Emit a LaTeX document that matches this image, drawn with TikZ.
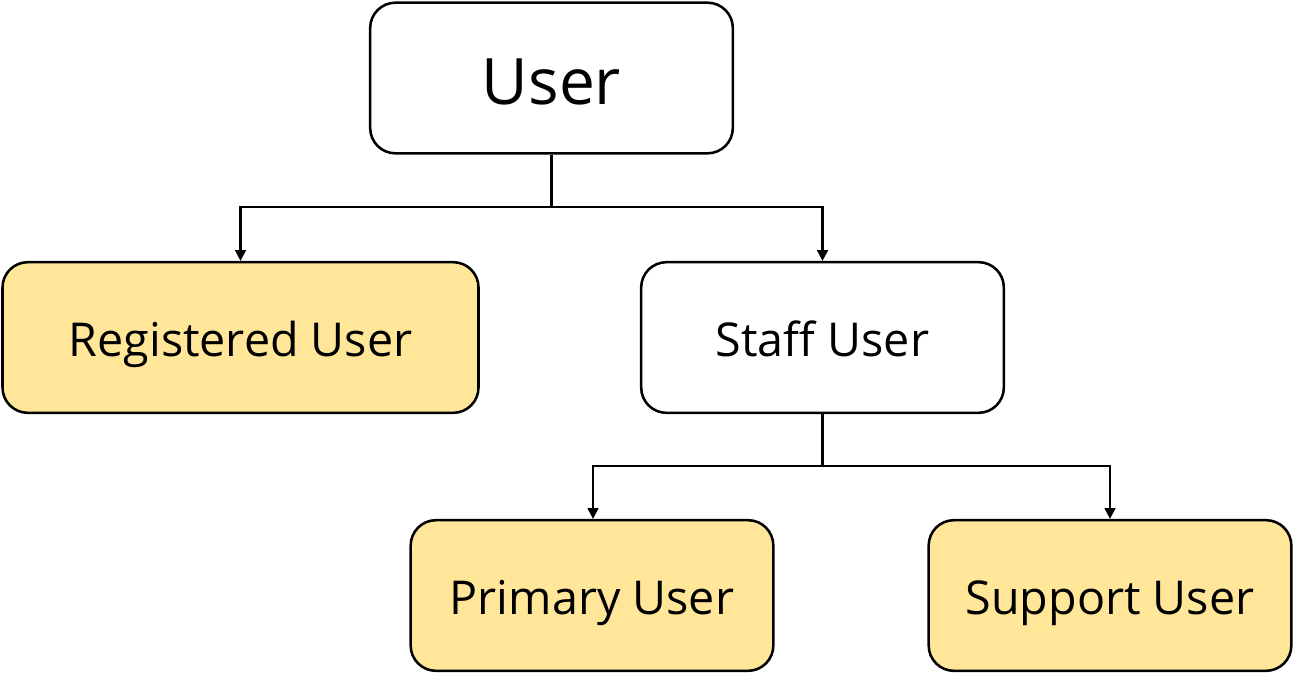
\documentclass[tikz,border=0pt]{standalone}
\usepackage{fontspec}
\setmainfont{Open Sans}
\usetikzlibrary{arrows.meta}
\definecolor{boxyellow}{HTML}{FFE699}
\tikzset{
  box/.style={draw=black, line width=1.9pt, rounded corners=19pt, minimum width=272pt, minimum height=113pt, align=center, inner sep=0pt, text height=33pt, text depth=4pt, font=\fontsize{35}{42}\selectfont},
  yellowbox/.style={box, fill=boxyellow},
  whitebox/.style={box, fill=white},
  conn/.style={line width=1.6pt, draw=black},
  arr/.style={conn, -{Triangle[width=8pt,length=8pt]}}
}
\begin{document}
\begin{tikzpicture}[x=0.75pt,y=-0.75pt]
\useasboundingbox (0,0) rectangle (1294,675);
\node[whitebox, font=\fontsize{48}{56}\selectfont, text height=44pt, text depth=5pt] (user) at (551.5,78) {User};
\node[yellowbox, minimum width=357pt] (reg) at (240.5,337.5) {Registered User};
\node[whitebox] (staff) at (822.5,337.5) {Staff User};
\node[yellowbox] (prim) at (592,595.5) {Primary User};
\node[yellowbox] (supp) at (1110,595.5) {Support User};
\coordinate (j1) at (551.5,207);
\coordinate (j2) at (822.5,466);
\draw[conn] (user.south) -- (j1);
\draw[arr] (j1) -| (reg.north);
\draw[arr] (j1) -| (staff.north);
\draw[conn] (staff.south) -- (j2);
\draw[arr] (j2) -| ([xshift=0.75pt]prim.north);
\draw[arr] (j2) -| (supp.north);
\end{tikzpicture}
\end{document}
